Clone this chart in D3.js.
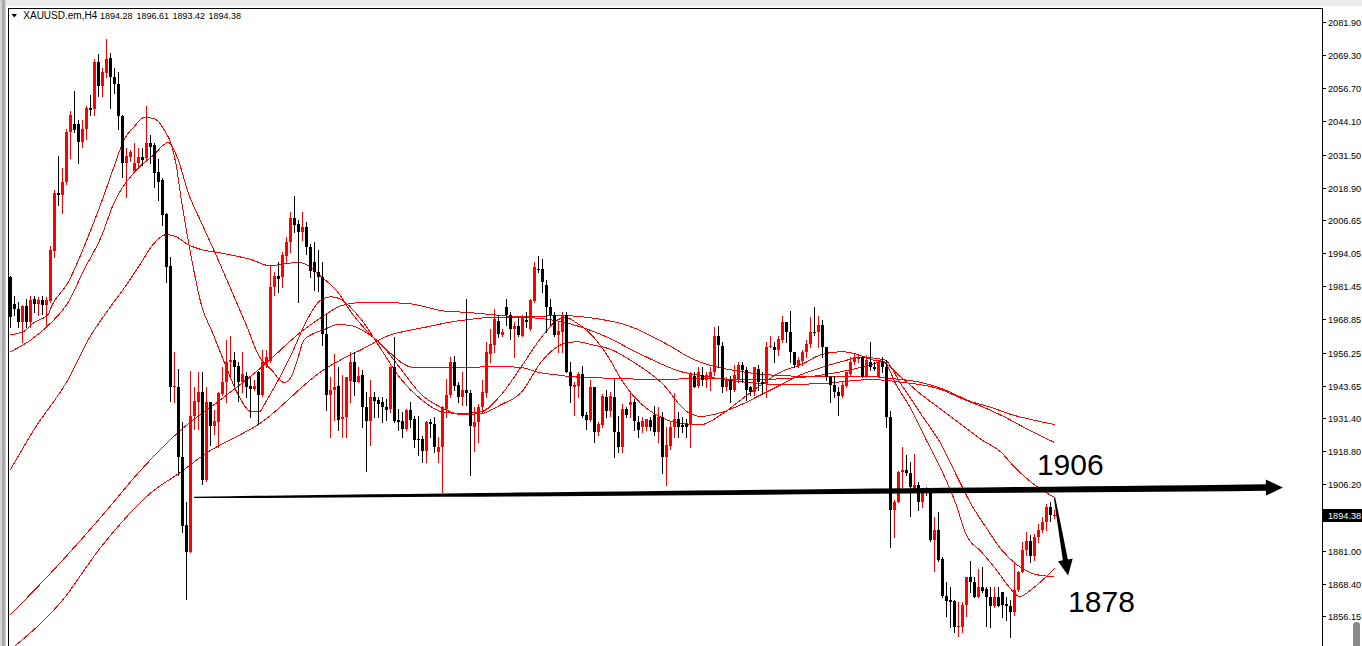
<!DOCTYPE html>
<html><head><meta charset="utf-8">
<script src="https://cdn.jsdelivr.net/npm/d3@7"></script>
<style>html,body{margin:0;padding:0;background:#fff;overflow:hidden}svg{display:block}</style>
</head><body><svg id="c" width="1362" height="646"></svg>
<script>
// ---------------- DATA ----------------
const symbol = "XAUUSD.em,H4";
const lastOHLC = [1894.28, 1896.61, 1893.42, 1894.38];
const currentPrice = 1894.38;
const priceTicks = [2081.90, 2069.30, 2056.70, 2044.10, 2031.50, 2018.90, 2006.65, 1994.05, 1981.45, 1968.85, 1956.25, 1943.65, 1931.40, 1918.80, 1906.20, 1881.00, 1868.40, 1856.15];
const tickLabels = ["2081.90","2069.30","2056.70","2044.10","2031.50","2018.90","2006.65","1994.05","1981.45","1968.85","1956.25","1943.65","1931.40","1918.80","1906.20","1881.00","1868.40","1856.15"];

const opens = [1984.8,1974.9,1973.0,1967.7,1974.1,1968.0,1976.8,1974.9,1976.4,1974.5,1976.0,1995.0,2017.1,2016.3,2021.2,2040.2,2043.3,2043.3,2036.4,2041.4,2049.4,2049.0,2066.8,2057.7,2062.7,2068.4,2061.1,2058.5,2046.3,2028.5,2030.7,2025.4,2028.5,2030.7,2030.4,2036.1,2035.3,2025.0,2022.0,2009.1,1989.3,1943.0,1943.3,1916.4,1890.9,1880.3,1932.3,1937.6,1941.4,1908.0,1937.3,1928.5,1929.7,1940.7,1944.9,1952.5,1953.6,1951.3,1945.2,1947.5,1943.7,1942.6,1949.0,1940.3,1951.7,1953.2,1981.0,1985.5,1984.8,1993.1,1998.1,2007.6,2005.3,2001.9,2003.8,1996.5,1990.8,1987.0,1985.1,1963.5,1940.3,1942.2,1943.7,1931.2,1931.6,1945.6,1952.8,1945.2,1947.9,1935.7,1930.4,1939.2,1938.4,1937.3,1935.7,1935.0,1950.6,1930.8,1930.4,1927.4,1934.6,1931.2,1923.6,1923.6,1919.0,1929.7,1929.3,1918.6,1920.2,1935.0,1940.3,1952.5,1944.1,1939.5,1942.2,1941.0,1928.1,1929.7,1935.7,1941.0,1955.9,1959.3,1968.4,1963.1,1973.4,1970.7,1965.4,1966.5,1962.7,1968.8,1965.4,1976.0,1988.2,1988.2,1982.1,1973.4,1970.7,1963.1,1964.2,1970.7,1949.0,1943.3,1943.7,1948.3,1932.7,1930.8,1943.3,1925.9,1928.9,1939.5,1934.2,1939.2,1926.2,1920.5,1935.0,1936.5,1937.6,1930.0,1928.1,1928.1,1930.8,1932.7,1925.9,1931.9,1916.4,1920.9,1927.8,1931.2,1928.9,1929.3,1928.9,1947.5,1943.7,1947.9,1946.0,1947.1,1948.7,1962.7,1958.9,1943.0,1946.0,1942.2,1946.0,1951.7,1949.8,1943.0,1941.4,1950.2,1944.9,1944.5,1958.5,1958.5,1957.4,1961.2,1967.7,1964.2,1956.3,1951.7,1953.2,1956.3,1959.7,1964.2,1963.9,1966.9,1958.5,1947.1,1944.1,1941.4,1939.9,1943.7,1948.3,1952.5,1954.0,1954.7,1947.1,1952.5,1950.9,1947.1,1952.5,1950.9,1931.9,1896.6,1899.6,1911.0,1911.8,1910.6,1904.6,1906.1,1899.6,1903.1,1903.4,1885.2,1889.0,1878.0,1863.9,1862.4,1862.0,1851.8,1852.1,1860.5,1871.1,1868.9,1863.5,1867.3,1866.6,1863.5,1859.8,1863.2,1865.1,1860.9,1859.8,1857.5,1866.2,1873.0,1881.4,1884.8,1878.8,1886.3,1889.0,1892.0,1897.7,1894.28];
const highs = [1985.5,1977.9,1975.6,1974.5,1976.8,1977.9,1977.9,1977.2,1977.9,1977.5,1996.9,2018.2,2031.1,2026.6,2041.4,2048.2,2055.8,2044.8,2044.8,2050.1,2054.3,2068.0,2069.9,2064.6,2075.6,2070.3,2064.6,2063.0,2046.7,2034.2,2033.4,2036.1,2034.2,2034.2,2050.1,2039.1,2036.1,2030.0,2022.8,2009.5,1992.4,1956.3,1950.2,1929.7,1899.3,1949.4,1943.0,1948.7,1949.0,1943.3,1937.6,1934.6,1941.4,1950.9,1961.2,1962.7,1956.6,1952.8,1956.3,1949.0,1947.1,1946.0,1949.4,1957.4,1957.4,1989.3,1986.7,1990.8,1994.3,2000.0,2009.8,2015.9,2006.8,2009.8,2006.0,1997.7,1998.1,1995.4,1990.5,1970.7,1946.8,1955.9,1950.9,1947.9,1947.1,1956.3,1956.3,1950.6,1949.8,1941.4,1946.0,1941.4,1939.5,1939.2,1938.8,1951.3,1962.0,1935.0,1933.8,1935.0,1937.3,1932.0,1932.0,1924.7,1930.4,1931.2,1931.6,1924.3,1936.1,1946.4,1954.4,1955.1,1945.2,1949.0,1976.8,1942.2,1935.4,1936.9,1946.0,1960.1,1965.4,1973.0,1970.3,1965.4,1976.8,1971.5,1967.7,1969.9,1970.7,1971.5,1976.8,1990.5,1993.1,1992.0,1984.0,1976.8,1971.5,1967.7,1971.8,1971.5,1952.5,1945.2,1948.7,1951.3,1933.8,1946.0,1943.3,1929.7,1940.7,1942.2,1941.4,1946.4,1932.0,1936.9,1935.7,1941.0,1938.8,1932.3,1931.6,1931.2,1931.6,1936.1,1935.7,1933.5,1927.8,1930.0,1941.0,1933.5,1931.6,1931.2,1948.7,1949.0,1950.9,1950.9,1949.0,1950.6,1966.1,1966.5,1960.4,1946.8,1947.5,1951.7,1952.5,1952.8,1950.6,1943.7,1950.9,1951.7,1948.7,1960.4,1962.4,1960.1,1962.7,1970.3,1968.0,1972.2,1956.6,1954.4,1957.4,1961.2,1969.6,1973.7,1970.3,1968.8,1958.5,1947.5,1947.5,1943.3,1944.9,1948.7,1954.4,1955.9,1955.9,1955.1,1955.5,1960.1,1952.5,1953.6,1954.7,1953.6,1934.2,1900.4,1911.4,1920.2,1917.5,1914.5,1917.9,1906.9,1904.6,1905.3,1903.8,1893.6,1895.5,1878.4,1868.9,1867.3,1862.4,1861.6,1861.3,1871.1,1877.2,1871.1,1874.2,1874.9,1867.3,1867.0,1867.0,1867.0,1865.1,1863.5,1862.4,1876.8,1873.4,1884.1,1887.9,1887.1,1887.5,1891.3,1893.6,1898.9,1899.6,1896.61];
const lows = [1966.1,1970.7,1965.8,1960.4,1965.8,1966.1,1971.5,1970.7,1971.1,1966.9,1975.3,1992.7,2012.5,2009.5,2020.5,2030.4,2040.2,2028.5,2034.5,2037.6,2046.7,2046.7,2053.9,2053.9,2061.1,2049.4,2055.1,2041.4,2023.1,2015.5,2029.2,2025.0,2027.0,2027.7,2029.2,2028.5,2019.3,2014.4,2004.9,1983.2,1938.0,1937.6,1909.9,1888.2,1862.8,1880.3,1927.4,1927.4,1906.5,1907.6,1921.3,1925.5,1920.5,1940.3,1937.6,1947.1,1944.1,1938.0,1941.1,1939.5,1931.9,1942.2,1929.3,1939.9,1950.6,1952.8,1978.3,1979.4,1981.0,1990.5,1994.6,2001.9,1975.6,1999.2,1993.9,1985.1,1980.2,1979.8,1959.3,1934.6,1924.3,1930.8,1927.0,1924.3,1924.3,1937.3,1940.3,1944.9,1928.1,1911.4,1921.3,1931.9,1931.9,1930.0,1930.8,1933.5,1929.7,1927.0,1924.0,1927.0,1928.1,1920.5,1917.5,1914.5,1914.8,1924.3,1918.6,1914.5,1903.1,1931.9,1939.5,1942.2,1937.3,1936.5,1936.5,1909.9,1919.0,1922.4,1933.5,1939.5,1952.5,1956.3,1962.0,1962.4,1966.9,1961.6,1954.4,1962.7,1962.4,1966.1,1965.0,1975.6,1987.0,1979.1,1964.2,1966.9,1962.7,1956.3,1956.3,1948.7,1937.6,1932.7,1939.5,1931.6,1927.4,1930.4,1922.1,1925.1,1928.1,1931.6,1932.3,1916.4,1918.3,1918.6,1931.9,1931.6,1927.0,1924.3,1926.2,1927.0,1927.0,1925.1,1922.4,1910.6,1906.1,1919.8,1924.0,1924.3,1926.2,1924.0,1920.2,1943.0,1943.3,1944.1,1943.0,1942.2,1947.9,1950.9,1941.1,1942.2,1937.3,1941.8,1945.2,1945.2,1938.4,1940.3,1940.3,1942.2,1940.7,1939.5,1958.2,1952.8,1955.5,1960.1,1960.1,1952.5,1950.9,1950.9,1951.7,1954.7,1958.5,1963.1,1958.2,1954.4,1946.0,1937.6,1939.5,1932.7,1939.5,1943.0,1947.9,1952.1,1952.8,1946.8,1946.8,1949.8,1949.8,1947.1,1949.0,1928.1,1882.5,1886.3,1899.3,1905.0,1909.9,1894.3,1904.2,1896.6,1897.7,1902.3,1884.8,1873.1,1877.2,1863.5,1856.0,1852.1,1849.9,1848.7,1850.2,1856.0,1865.1,1863.2,1863.2,1865.4,1852.5,1852.1,1859.4,1859.8,1855.6,1854.8,1848.3,1856.7,1865.8,1872.7,1879.5,1876.5,1877.6,1884.4,1888.2,1889.0,1892.4,1893.42];
const closes = [1969.9,1973.0,1967.7,1974.1,1968.0,1976.4,1974.9,1976.4,1974.5,1976.4,1995.4,2017.1,2016.3,2021.2,2040.2,2046.7,2041.0,2036.4,2041.4,2049.4,2048.6,2066.8,2057.7,2063.0,2068.0,2061.1,2058.5,2046.0,2028.5,2031.1,2032.6,2028.5,2030.7,2029.6,2036.1,2034.5,2024.7,2021.2,2008.7,1988.9,1943.0,1943.7,1916.4,1890.5,1880.3,1932.3,1938.0,1941.4,1908.0,1937.6,1928.5,1930.4,1941.0,1945.2,1952.8,1953.6,1950.9,1945.2,1948.3,1943.3,1942.6,1943.7,1940.3,1952.5,1954.4,1981.0,1985.5,1984.4,1993.5,1998.1,2007.6,2004.9,2002.2,2003.8,1996.5,1987.4,1986.7,1984.8,1963.5,1940.3,1942.2,1943.3,1930.8,1931.9,1946.8,1952.8,1945.2,1947.5,1935.7,1930.4,1939.5,1938.0,1936.9,1935.7,1934.6,1950.6,1930.4,1930.0,1927.4,1934.6,1930.8,1923.2,1923.2,1919.0,1929.7,1929.3,1920.5,1920.2,1935.4,1940.3,1952.5,1943.7,1939.5,1942.2,1941.0,1928.5,1930.0,1935.7,1941.4,1956.3,1959.7,1969.2,1963.5,1963.9,1970.7,1965.4,1966.5,1963.1,1969.6,1967.7,1976.4,1988.6,1987.8,1982.9,1973.4,1970.7,1963.1,1964.6,1970.7,1949.0,1943.7,1944.1,1948.3,1932.3,1930.8,1943.3,1926.2,1929.3,1939.9,1934.2,1939.9,1926.2,1920.5,1935.0,1932.7,1937.6,1930.4,1927.0,1930.4,1931.2,1928.1,1925.9,1931.9,1916.4,1921.3,1927.8,1931.2,1928.1,1928.1,1927.8,1948.3,1943.3,1948.7,1946.0,1947.9,1948.7,1962.7,1959.3,1943.0,1946.0,1942.2,1947.9,1951.7,1949.8,1942.2,1941.1,1950.6,1944.9,1944.5,1958.5,1958.9,1957.4,1961.6,1967.7,1964.2,1956.3,1951.7,1953.6,1956.3,1959.7,1964.2,1963.9,1966.9,1958.2,1946.8,1944.1,1941.1,1939.9,1944.1,1948.7,1952.8,1954.7,1954.7,1947.1,1953.6,1950.6,1950.2,1952.5,1950.9,1931.9,1896.6,1899.6,1911.0,1911.8,1910.6,1905.0,1906.1,1899.6,1903.1,1903.4,1885.2,1889.0,1877.6,1863.9,1862.0,1861.6,1851.8,1852.5,1860.5,1871.1,1868.9,1863.5,1867.3,1865.8,1863.2,1859.8,1863.2,1860.1,1860.5,1859.8,1857.8,1866.2,1873.0,1881.4,1884.8,1878.8,1886.3,1889.0,1892.0,1897.7,1894.7,1894.38];

// moving-average lines: [bar index, price]
const maFast = [[0,1963.1],[3.2,1964.2],[5.9,1967.7],[9.4,1970.7],[10.2,1973.7],[14.4,1982.9],[18.4,1996.5],[22.7,2013.3],[25.9,2027.0],[28.4,2037.2],[30.9,2042.1],[33.4,2045.6],[35.9,2045.2],[38.4,2041.0],[40.2,2035.3],[41.4,2027.7],[42.7,2014.4],[45.2,1992.4],[47.7,1974.5],[50.7,1963.1],[53.4,1952.8],[56.9,1940.3],[60.2,1933.8],[62.2,1933.8],[64.0,1938.0],[67.0,1946.0],[70.2,1955.5],[73.9,1968.0],[77.7,1976.4],[80.2,1977.5],[82.7,1976.4],[87.7,1968.8],[92.7,1957.4],[97.7,1946.0],[102.7,1938.4],[107.7,1933.8],[112.7,1933.1],[117.7,1933.8],[122.7,1940.3],[127.7,1950.9],[132.7,1962.0],[136.9,1968.8],[138.9,1969.6],[141.4,1967.7],[145.2,1963.1],[149.4,1954.7],[152.7,1946.0],[155.9,1939.5],[159.4,1934.6],[162.7,1931.6],[167.7,1929.3],[172.7,1928.9],[177.7,1932.7],[182.7,1938.4],[187.7,1944.1],[192.7,1949.0],[197.7,1951.7],[202.7,1955.5],[207.7,1956.6],[212.7,1955.1],[215.2,1953.6],[218.4,1952.8],[221.4,1944.1],[225.2,1934.6],[228.9,1923.2],[232.7,1911.8],[236.4,1898.5],[238.9,1887.1],[242.7,1880.6],[246.4,1873.8],[250.2,1866.2],[252.2,1863.5],[255.2,1866.2],[261,1874.2]];
const maMid1 = [[0,1956.6],[5.2,1961.2],[10.2,1967.7],[14.4,1975.3],[18.4,1987.8],[22.7,2000.3],[25.9,2013.3],[30.9,2024.7],[35.9,2031.5],[39.4,2036.1],[41.9,2029.6],[44.4,2017.1],[47.7,2005.7],[51.9,1991.6],[55.9,1977.5],[59.4,1965.0],[61.9,1955.5],[65.2,1949.8],[68.4,1944.9],[70.2,1947.1],[71.9,1954.4],[73.4,1961.2],[78.4,1965.0],[81.9,1966.9],[85.2,1966.5],[87.7,1965.0],[92.7,1959.3],[97.7,1949.8],[102.7,1940.3],[107.7,1935.4],[112.7,1932.7],[117.7,1933.1],[122.7,1936.5],[127.7,1941.1],[132.7,1952.8],[137.7,1959.3],[141.4,1960.4],[145.2,1959.3],[150.2,1957.4],[155.9,1952.5],[162.7,1944.9],[169.4,1933.5],[172.7,1932.0],[177.7,1933.5],[182.7,1936.5],[187.7,1940.3],[192.7,1944.1],[197.7,1947.9],[202.7,1950.6],[207.7,1952.8],[212.7,1954.4],[218.4,1953.6],[222.7,1944.1],[227.7,1932.7],[232.7,1921.3],[236.4,1909.9],[240.2,1898.5],[243.9,1889.8],[247.7,1881.4],[251.9,1875.3],[256.4,1871.9],[261,1871.1]];
const maMid2 = [[0,1911.8],[5.9,1927.0],[14.4,1946.0],[20.2,1963.1],[22.7,1968.8],[29.4,1982.9],[32.7,1990.5],[35.2,1996.5],[38.9,2001.1],[41.4,2000.3],[44.4,1997.3],[47.7,1995.4],[51.9,1994.3],[55.9,1993.1],[60.2,1991.6],[64.7,1989.3],[71.9,1990.5],[74.4,1989.3],[77.7,1985.1],[81.9,1979.1],[85.2,1971.5],[92.7,1959.3],[100.9,1950.6],[110.2,1950.6],[122.7,1950.9],[127.7,1950.6],[132.0,1948.7],[136.0,1947.9],[140.2,1947.1],[152.7,1946.4],[160.9,1946.0],[172.7,1946.4],[185.2,1946.0],[197.7,1946.8],[207.7,1949.0],[215.2,1951.7],[217.7,1952.8],[222.7,1946.8],[227.7,1940.3],[232.7,1934.6],[237.7,1928.9],[242.7,1923.2],[247.7,1918.3],[250.9,1912.9],[255.9,1906.1],[261,1901.2]];
const maSlow1 = [[0,1856.7],[10.2,1872.7],[22.7,1893.9],[32.7,1911.8],[42.7,1927.0],[51.9,1937.6],[62.7,1950.6],[72.7,1964.2],[77.7,1969.6],[82.7,1974.1],[87.7,1975.3],[92.7,1975.3],[99.4,1974.9],[104.4,1973.4],[107.7,1972.2],[114.4,1971.5],[120.2,1970.7],[127.7,1969.9],[138.4,1970.3],[144.4,1969.6],[149.4,1968.4],[152.7,1967.3],[156.9,1965.0],[160.9,1962.0],[165.2,1958.5],[169.4,1954.7],[172.7,1952.5],[182.7,1949.0],[192.7,1947.5],[202.7,1947.1],[215.2,1947.1],[220.2,1946.4],[227.7,1944.9],[233.4,1942.2],[240.2,1937.6],[245.2,1935.4],[250.2,1932.7],[255.2,1930.8],[261,1928.9]];
const maSlow2 = [[0,1843.4],[12.7,1861.6],[22.7,1882.5],[35.2,1903.1],[42.7,1911.0],[48.4,1917.5],[62.7,1929.7],[78.4,1949.8],[82.7,1953.6],[87.7,1957.4],[95.2,1963.1],[99.4,1964.6],[104.4,1966.1],[109.4,1967.7],[114.4,1968.8],[120.2,1969.6],[127.7,1969.6],[137.7,1968.0],[147.7,1963.1],[157.7,1955.5],[167.7,1949.0],[172.7,1947.5],[182.7,1945.2],[192.7,1944.1],[202.7,1944.5],[215.2,1946.0],[223.4,1944.9],[231.9,1942.6],[238.4,1938.4],[243.4,1935.4],[248.4,1931.9],[254.4,1927.0],[261,1922.1]];

// hand-drawn annotation (in bar index / price units)
const levelLine = {from:[45.9,1901.2], to:[318.1,1905.0], label:"1906", labelAt:[256.6,1909.9]};
const targetArrow = {from:[261,1901.2], to:[264.4,1871.5], label:"1878", labelAt:[264.4,1857.5]};

// ---------------- CHART ----------------
const W = 1362, H = 646;
const plotL = 8, plotT = 8, plotR = 1322;
const FONT = 'Liberation Sans, Arial, sans-serif';
const svg = d3.select('#c');
const x = d3.scaleLinear().domain([0, closes.length - 1]).range([10.5, 10.5 + 4 * (closes.length - 1)]);
const y = d3.scaleLinear().domain([1856.15, 2081.90]).range([616, 22]);

svg.append('rect').attr('width', W).attr('height', H).attr('fill', '#fff');

// window chrome
svg.append('rect').attr('x', 0).attr('y', 0).attr('width', W).attr('height', 6).attr('fill', '#ececec');
svg.append('rect').attr('x', 0).attr('y', 0).attr('width', 6).attr('height', H).attr('fill', '#d4d4d4');
svg.append('rect').attr('x', 2).attr('y', 0).attr('width', 3).attr('height', H).attr('fill', '#a9a9a9');

const defs = svg.append('defs');
defs.append('clipPath').attr('id', 'plot').append('rect')
  .attr('x', plotL + 1).attr('y', plotT + 1).attr('width', plotR - plotL - 1).attr('height', H);

const g = svg.append('g').attr('clip-path', 'url(#plot)');

// moving averages
const line = d3.line().x(d => x(d[0])).y(d => y(d[1])).curve(d3.curveMonotoneX);
[maSlow2, maSlow1, maMid2, maMid1, maFast].forEach(s => {
  g.append('path').attr('d', line(s)).attr('fill', 'none').attr('stroke', '#ff0000')
    .attr('stroke-width', 1).attr('shape-rendering', 'crispEdges');
});

// candles
const idx = d3.range(closes.length);
const col = i => closes[i] >= opens[i] ? '#ff0000' : '#000000';
g.selectAll('line.w').data(idx).join('line')
  .attr('x1', i => x(i)).attr('x2', i => x(i))
  .attr('y1', i => Math.round(y(highs[i]))).attr('y2', i => Math.round(y(lows[i])) + 1)
  .attr('stroke', col).attr('stroke-width', 1).attr('shape-rendering', 'crispEdges');
g.selectAll('rect.b').data(idx).join('rect')
  .attr('x', i => x(i) - 1.5).attr('width', 3)
  .attr('y', i => Math.round(y(Math.max(opens[i], closes[i]))))
  .attr('height', i => Math.max(1, Math.round(y(Math.min(opens[i], closes[i]))) - Math.round(y(Math.max(opens[i], closes[i])))))
  .attr('fill', col).attr('shape-rendering', 'crispEdges');

// frame
svg.append('line').attr('x1', plotL + 0.5).attr('x2', plotL + 0.5).attr('y1', plotT).attr('y2', H).attr('stroke', '#000');
svg.append('line').attr('x1', plotL).attr('x2', plotR + 1).attr('y1', plotT + 0.5).attr('y2', plotT + 0.5).attr('stroke', '#000');
svg.append('line').attr('x1', plotR + 0.5).attr('x2', plotR + 0.5).attr('y1', plotT).attr('y2', H).attr('stroke', '#000');

// price axis
const ax = svg.append('g');
priceTicks.forEach((p, k) => {
  const yy = Math.round(y(p)) + 0.5;
  ax.append('line').attr('x1', plotR + 1).attr('x2', plotR + 4).attr('y1', yy).attr('y2', yy).attr('stroke', '#000');
  ax.append('text').attr('x', plotR + 6).attr('y', yy + 3.4).text(tickLabels[k])
    .attr('font-family', FONT).attr('font-size', 9.2).attr('fill', '#000');
});
const cy = Math.round(y(currentPrice));
ax.append('rect').attr('x', plotR + 1).attr('y', cy - 6).attr('width', W - plotR - 1).attr('height', 13).attr('fill', '#000');
ax.append('text').attr('x', plotR + 6).attr('y', cy + 4).text(currentPrice.toFixed(2))
  .attr('font-family', FONT).attr('font-size', 9.2).attr('fill', '#fff');

// scroll thumb
svg.append('rect').attr('x', 1353).attr('y', 622).attr('width', 7).attr('height', 40).attr('rx', 3).attr('fill', '#8a8a8a');

// title
svg.append('path').attr('d', 'M11.5,14 L17,14 L14.25,17.5 Z').attr('fill', '#000');
svg.append('text').attr('x', 23.3).attr('y', 19.3).text(symbol)
  .attr('font-family', FONT).attr('font-size', 10).attr('fill', '#000');
const ohlcX = [100, 136.5, 172.6, 208.4];
lastOHLC.forEach((v, k) => {
  svg.append('text').attr('x', ohlcX[k]).attr('y', 19.3).text(v.toFixed(2))
    .attr('font-family', FONT).attr('font-size', 9).attr('fill', '#000');
});

// annotation arrows
function taperArrow(p0, p1, w0, w1, headLen, headW, power) {
  const dx = p1[0] - p0[0], dy = p1[1] - p0[1];
  const L = Math.hypot(dx, dy), ux = dx / L, uy = dy / L, nx = -uy, ny = ux;
  const shaftLen = L - headLen, N = 30, top = [], bot = [];
  for (let k = 0; k <= N; k++) {
    const t = k / N, w = w0 + (w1 - w0) * Math.pow(t, power);
    const cx = p0[0] + ux * shaftLen * t, cyy = p0[1] + uy * shaftLen * t;
    top.push([cx + nx * w / 2, cyy + ny * w / 2]);
    bot.push([cx - nx * w / 2, cyy - ny * w / 2]);
  }
  const bx = p0[0] + ux * shaftLen, by = p0[1] + uy * shaftLen;
  const head = [[bx + nx * headW / 2, by + ny * headW / 2], p1, [bx - nx * headW / 2, by - ny * headW / 2]];
  const pts = top.concat(head).concat(bot.reverse());
  return 'M' + pts.map(p => p[0].toFixed(2) + ',' + p[1].toFixed(2)).join('L') + 'Z';
}
const P = d => [x(d[0]), y(d[1])];
svg.append('path').attr('d', taperArrow(P(levelLine.from), P(levelLine.to), 1.2, 6.5, 17, 16, 0.6)).attr('fill', '#000');
svg.append('path').attr('d', taperArrow(P(targetArrow.from), P(targetArrow.to), 1.2, 5, 16, 15, 0.8)).attr('fill', '#000');
[levelLine, targetArrow].forEach(a => {
  const q = P(a.labelAt);
  svg.append('text').attr('x', q[0]).attr('y', q[1]).text(a.label)
    .attr('font-family', FONT).attr('font-size', 30).attr('fill', '#000');
});
</script></body></html>
